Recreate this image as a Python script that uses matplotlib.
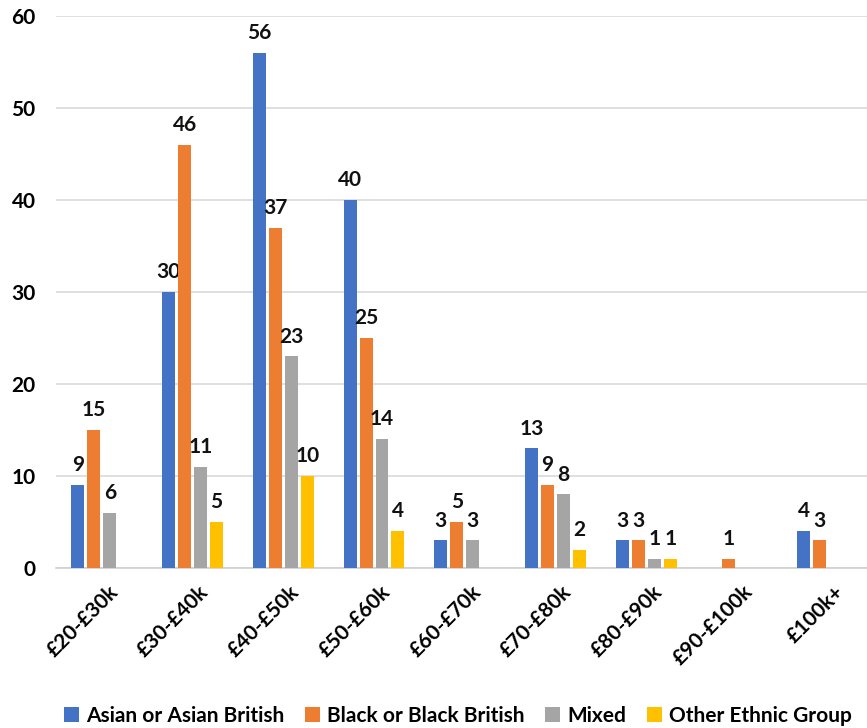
import numpy as np
import matplotlib.pyplot as plt
import matplotlib.transforms as mtransforms

plt.rcParams['font.family'] = ['Lato', 'DejaVu Sans']

bands = ['£20-£30k', '£30-£40k', '£40-£50k', '£50-£60k', '£60-£70k',
         '£70-£80k', '£80-£90k', '£90-£100k', '£100k+']
groups = ['Asian or Asian British', 'Black or Black British', 'Mixed',
          'Other Ethnic Group']
asian = [9, 30, 56, 40, 3, 13, 3, None, 4]
black = [15, 46, 37, 25, 5, 9, 3, 1, 3]
mixed = [6, 11, 23, 14, 3, 8, 1, None, None]
other = [None, 5, 10, 4, None, 2, 1, None, None]
colors = ['#4472C4', '#ED7D31', '#A5A5A5', '#FFC000']

FS = 15

fig = plt.figure(figsize=(8.67, 7.28), dpi=100)
ax = fig.add_axes([56.5 / 867, 1 - 568 / 728, (873 - 56.5) / 867, (568 - 16) / 728])

x = np.arange(len(bands))
slot = 0.176
width = 0.143
for i, (vals, col, name) in enumerate(zip([asian, black, mixed, other], colors, groups)):
    pos = x + (i - 1.5) * slot
    v = np.array([np.nan if a is None else a for a in vals], dtype=float)
    mask = ~np.isnan(v)
    ax.bar(pos[mask], v[mask], width=width, color=col, label=name, zorder=3)
    for px, pv in zip(pos[mask], v[mask]):
        ax.annotate(f'{int(pv)}', (px, pv), xytext=(0, 7), textcoords='offset points',
                    ha='center', va='bottom', fontsize=FS, fontweight='bold',
                    color='#111111')

ax.set_xlim(-0.5, len(bands) - 0.5)
ax.set_ylim(0, 60)
ax.set_yticks(range(0, 61, 10))
ax.yaxis.grid(True, color='#d9d9d9', linewidth=1.2, zorder=0)
ax.set_axisbelow(True)
for s in ['top', 'right', 'left']:
    ax.spines[s].set_visible(False)
ax.spines['bottom'].set_color('#d0d0d0')
ax.spines['bottom'].set_linewidth(1.2)
ax.tick_params(axis='both', length=0)
ax.tick_params(axis='y', pad=15, labelsize=FS)
for lab in ax.get_yticklabels():
    lab.set_fontweight('bold')

ax.set_xticks(x)
ax.set_xticklabels(bands, rotation=45, ha='right', va='top', rotation_mode='anchor',
                   fontsize=FS, fontweight='bold')
ax.tick_params(axis='x', pad=10)
shift = mtransforms.ScaledTranslation(6 / 100, 0, fig.dpi_scale_trans)
for lab in ax.get_xticklabels():
    lab.set_transform(lab.get_transform() + shift)

fig.legend(loc='center', bbox_to_anchor=(458 / 867, 1 - 716 / 728), ncol=4,
           frameon=False, handlelength=0.7, handleheight=0.7,
           handletextpad=0.35, columnspacing=1.0, prop={'weight': 'bold', 'size': FS})

fig.savefig('out.png', dpi=100)
